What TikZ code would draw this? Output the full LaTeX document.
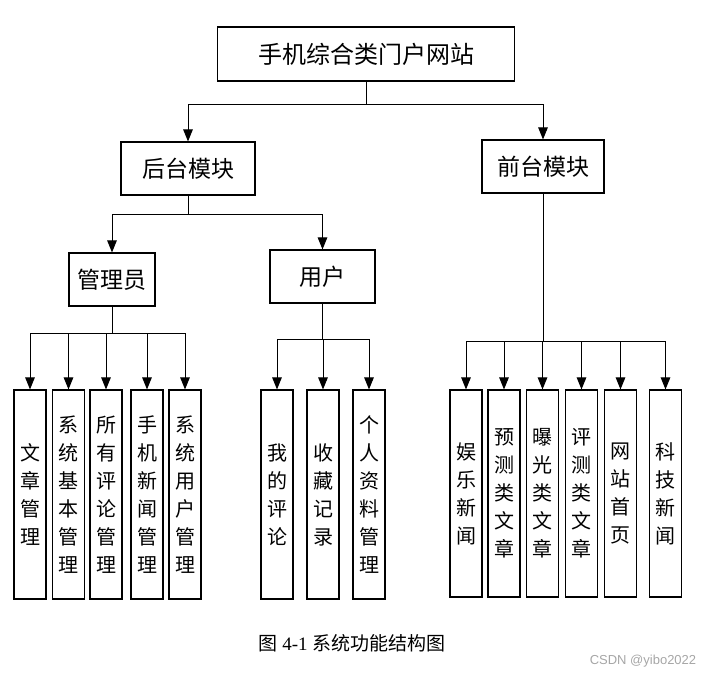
\documentclass[tikz,border=0pt]{standalone}
\usepackage{fontspec}
\setmainfont{Liberation Serif}
\setsansfont{Liberation Sans}
\newfontfamily\cjk{Noto Sans CJK SC}
\usepackage{tikz}
\usetikzlibrary{arrows.meta}

\tikzset{
  box/.style={draw, line width=1.1pt, inner sep=0pt, font=\cjk\fontsize{23}{27}\selectfont},
  leaf/.style={draw, line width=1.1pt, inner sep=0pt, minimum width=32pt, minimum height=209pt,
    align=center, font=\cjk\fontsize{20}{28}\selectfont},
  arr/.style={-{Triangle[length=12pt,width=9.5pt]}},
  conn/.style={line width=1pt}
}

\begin{document}
\begin{tikzpicture}[x=1pt, y=-1pt]
  \useasboundingbox (0,0) rectangle (709,678);

  \node[box, minimum width=297pt, minimum height=54pt, font=\cjk\fontsize{24}{28}\selectfont] (site) at (366,54) {手机综合类门户网站};
  \node[box, minimum width=134pt, minimum height=53pt] (backend) at (188,168.5) {后台模块};
  \node[box, minimum width=122pt, minimum height=53pt] (frontend) at (543,166.5) {前台模块};
  \node[box, minimum width=86pt, minimum height=53pt] (admin) at (112,279.5) {管理员};
  \node[box, minimum width=105pt, minimum height=53pt] (user) at (322.5,276.5) {用户};

  % admin functions
  \node[leaf] (articleMgr) at (30,494.5) {文\\章\\管\\理};
  \node[leaf] (basicMgr) at (68.5,494.5) {系\\统\\基\\本\\管\\理};
  \node[leaf] (commentMgr) at (106,494.5) {所\\有\\评\\论\\管\\理};
  \node[leaf] (newsMgr) at (147,494.5) {手\\机\\新\\闻\\管\\理};
  \node[leaf] (userMgr) at (185,494.5) {系\\统\\用\\户\\管\\理};

  % user functions
  \node[leaf] (myComment) at (277,494.5) {我\\的\\评\\论};
  \node[leaf] (favorites) at (323,494.5) {收\\藏\\记\\录};
  \node[leaf] (profileMgr) at (369,494.5) {个\\人\\资\\料\\管\\理};

  % front pages
  \node[leaf, minimum height=207pt] (funNews) at (466,493.5) {娱\\乐\\新\\闻};
  \node[leaf, minimum height=207pt] (forecast) at (504,493.5) {预\\测\\类\\文\\章};
  \node[leaf, minimum height=207pt] (exposure) at (542.5,493.5) {曝\\光\\类\\文\\章};
  \node[leaf, minimum height=207pt] (review) at (581.5,493.5) {评\\测\\类\\文\\章};
  \node[leaf, minimum height=207pt] (homePage) at (620.5,493.5) {网\\站\\首\\页};
  \node[leaf, minimum height=207pt] (techNews) at (665.5,493.5) {科\\技\\新\\闻};

  \coordinate (siteJ) at (366,104);
  \coordinate (backJ) at (188,214);
  \coordinate (adminJ) at (112,333);
  \coordinate (userJ) at (322.5,339);
  \coordinate (frontJ) at (543,341);

  \draw[conn] (site) -- (siteJ);
  \draw[conn, arr] (siteJ) -| (backend);
  \draw[conn, arr] (siteJ) -| (frontend);

  \draw[conn] (backend) -- (backJ);
  \draw[conn, arr] (backJ) -| (admin);
  \draw[conn, arr] (backJ) -| (user);

  \draw[conn] (admin) -- (adminJ);
  \draw[conn, arr] (adminJ) -| (articleMgr);
  \draw[conn, arr] (adminJ) -| (basicMgr);
  \draw[conn, arr] (adminJ) -| (commentMgr);
  \draw[conn, arr] (adminJ) -| (newsMgr);
  \draw[conn, arr] (adminJ) -| (userMgr);

  \draw[conn] (user) -- (userJ);
  \draw[conn, arr] (userJ) -| (myComment);
  \draw[conn, arr] (userJ) -| (favorites);
  \draw[conn, arr] (userJ) -| (profileMgr);

  \draw[conn] (frontend) -- (frontJ);
  \draw[conn, arr] (frontJ) -| (funNews);
  \draw[conn, arr] (frontJ) -| (forecast);
  \draw[conn, arr] (frontJ) -| (exposure);
  \draw[conn, arr] (frontJ) -| (review);
  \draw[conn, arr] (frontJ) -| (homePage);
  \draw[conn, arr] (frontJ) -| (techNews);

  \node[font=\fontsize{19}{22}\selectfont] (caption) at (352,643) {{\cjk 图} 4-1 {\cjk 系统功能结构图}};
  \node[font=\sffamily\fontsize{13}{15}\selectfont, text=gray!70] (mark) at (643,661) {CSDN @yibo2022};
\end{tikzpicture}
\end{document}
